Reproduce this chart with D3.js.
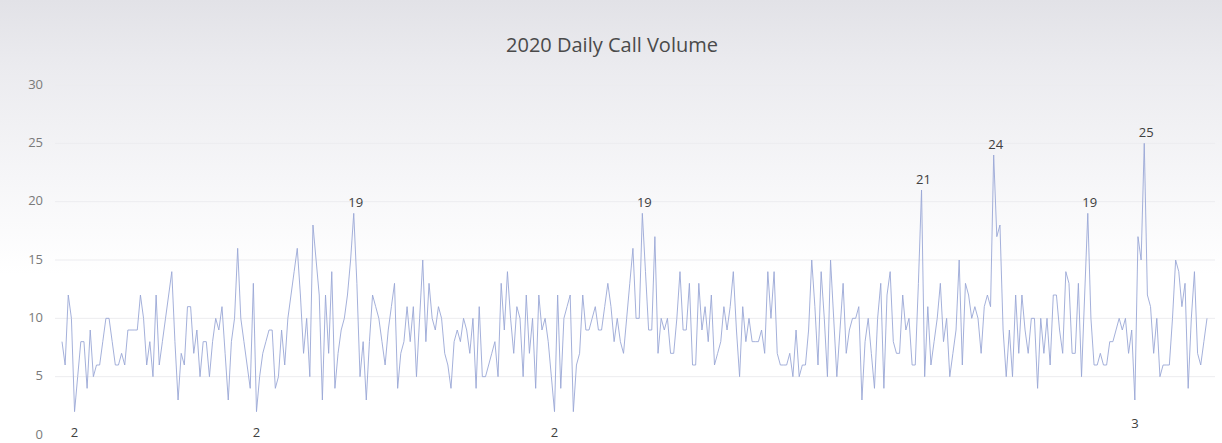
<!DOCTYPE html>
<html>
<head>
<meta charset="utf-8">
<script src="https://cdn.jsdelivr.net/npm/d3@7"></script>
<style>
  html, body { margin: 0; padding: 0; background: #ffffff; }
  svg { display: block; }
</style>
</head>
<body>
<svg id="chart" width="1222" height="443"></svg>
<script>
// ---- data ----
const title = "2020 Daily Call Volume";
const startDate = "2020-01-01";
const endDate = "2021-01-01";
const dailyCalls = [
  8,6,12,10,2,5,8,8,4,9,5,6,6,8,10,10,8,6,6,7,
  6,9,9,9,9,12,10,6,8,5,12,6,8,10,12,14,8,3,7,6,
  11,11,7,9,5,8,8,5,8,10,9,11,7,3,8,10,16,10,8,6,
  4,13,2,5,7,8,9,9,4,5,9,6,10,12,14,16,12,7,10,5,
  18,15,12,3,12,7,14,4,7,9,10,12,15,19,13,5,8,3,8,12,
  11,10,8,6,9,11,13,4,7,8,11,8,11,5,10,15,8,13,10,9,
  11,10,7,6,4,8,9,8,10,9,7,10,4,11,5,5,6,7,8,5,
  13,9,14,10,7,11,10,5,12,7,10,4,12,9,10,8,5,2,12,4,
  10,11,12,2,6,7,12,9,9,10,11,9,9,11,13,11,8,10,8,7,
  10,13,16,10,10,19,14,9,9,17,7,10,9,10,7,7,10,14,9,9,
  13,6,6,13,9,11,8,12,6,7,8,11,9,11,14,9,5,11,8,10,
  8,8,8,9,7,14,10,14,7,6,6,6,7,5,9,5,6,6,9,15,
  11,6,14,10,5,15,10,5,9,13,7,9,10,10,11,3,8,10,7,4,
  10,13,4,12,14,8,7,7,12,9,10,6,6,13,21,5,11,6,8,10,
  13,8,10,5,7,9,15,6,13,12,10,11,10,7,11,12,11,24,17,18,
  9,5,9,5,12,7,12,9,7,10,10,4,10,7,10,6,12,12,9,7,
  14,13,7,7,13,5,12,19,10,6,6,7,6,6,8,8,9,10,9,10,
  7,9,3,17,15,25,12,11,7,10,5,6,6,6,10,15,14,11,13,4,
  10,14,7,6,8,10
];
// indices of the days carrying a data label
const labelledHigh = [93, 185, 274, 297, 327, 345];
const labelledLow = [4, 62, 157, 342];
const yTicks = [0, 5, 10, 15, 20, 25, 30];

// ---- chart ----
const svg = d3.select("#chart");
const W = 1222, H = 443;
const FONT = "'Open Sans', 'Liberation Sans', sans-serif";

const defs = svg.append("defs");
const grad = defs.append("linearGradient")
  .attr("id", "bg").attr("x1", 0).attr("y1", 0).attr("x2", 0).attr("y2", 1);
grad.append("stop").attr("offset", "0%").attr("stop-color", "#e2e2e7");
grad.append("stop").attr("offset", "15%").attr("stop-color", "#ebebef");
grad.append("stop").attr("offset", "40%").attr("stop-color", "#f6f6f8");
grad.append("stop").attr("offset", "62%").attr("stop-color", "#ffffff");
grad.append("stop").attr("offset", "100%").attr("stop-color", "#ffffff");
svg.append("rect").attr("width", W).attr("height", H).attr("fill", "url(#bg)");

const days = d3.timeDay.range(new Date(startDate + "T00:00:00"), new Date(endDate + "T00:00:00"));
const data = dailyCalls.map((v, i) => ({ date: days[i], value: v, i }));

const x = d3.scaleTime()
  .domain([days[0], days[days.length - 1]])
  .range([62, 1207]);
const y = d3.scaleLinear().domain([0, 30]).range([435, 85]);

// gridlines (very faint in the reference)
svg.append("g")
  .selectAll("line")
  .data(yTicks.filter(t => t > 0))
  .join("line")
  .attr("x1", 55).attr("x2", 1215)
  .attr("y1", d => y(d)).attr("y2", d => y(d))
  .attr("stroke", "#ececef").attr("stroke-width", 1);

// y axis labels
const yAxis = d3.axisLeft(y).tickValues(yTicks).tickSize(0).tickPadding(0);
const gy = svg.append("g").attr("transform", "translate(43,0)").call(yAxis);
gy.select(".domain").remove();
gy.selectAll("text")
  .attr("dy", "0.25em")
  .attr("font-family", FONT)
  .attr("font-size", 13)
  .attr("fill", "#7a7a7a");

// title
svg.append("text")
  .attr("x", 612).attr("y", 52)
  .attr("text-anchor", "middle")
  .attr("font-family", FONT)
  .attr("font-size", 20)
  .attr("fill", "#4a4a4a")
  .text(title);

// line
const line = d3.line().x(d => x(d.date)).y(d => y(d.value));
svg.append("path")
  .datum(data)
  .attr("d", line)
  .attr("fill", "none")
  .attr("stroke", "#9aa7d6")
  .attr("stroke-width", 0.9)
  .attr("stroke-linejoin", "round");

// data labels
const lab = svg.append("g")
  .attr("font-family", FONT)
  .attr("font-size", 13)
  .attr("fill", "#404040")
  .attr("text-anchor", "middle");
lab.selectAll("text.hi")
  .data(labelledHigh.map(i => data[i]))
  .join("text")
  .attr("class", "hi")
  .attr("x", d => x(d.date) + 2)
  .attr("y", d => y(d.value) - 6)
  .text(d => d.value);
lab.selectAll("text.lo")
  .data(labelledLow.map(i => data[i]))
  .join("text")
  .attr("class", "lo")
  .attr("x", d => x(d.date))
  .attr("y", d => Math.min(y(d.value) + 28, 437))
  .text(d => d.value);
</script>
</body>
</html>
